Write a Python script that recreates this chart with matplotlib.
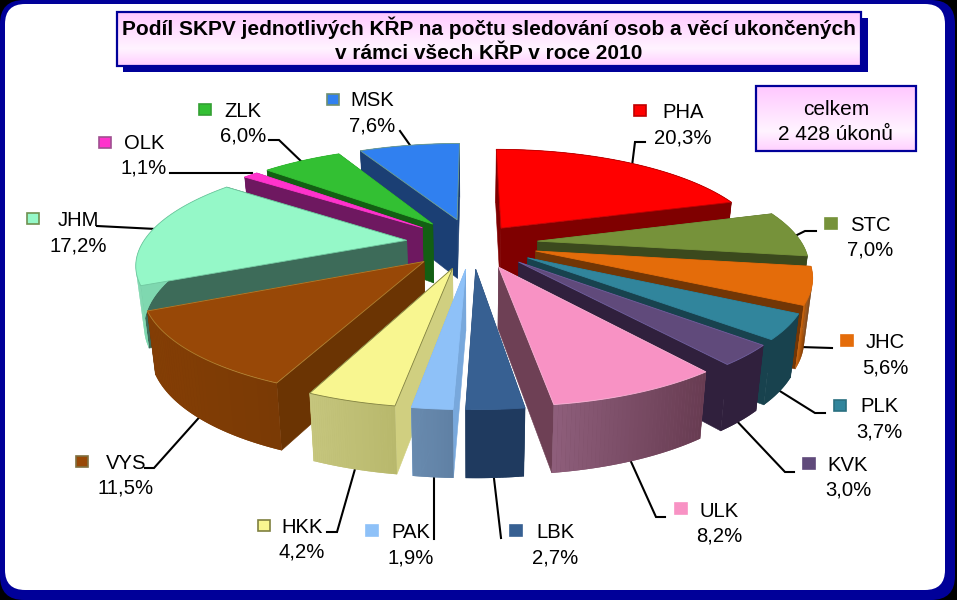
import numpy as np
import matplotlib
matplotlib.use("Agg")
import matplotlib.pyplot as plt
from matplotlib.patches import FancyBboxPatch, Rectangle, Polygon
from matplotlib.colors import to_rgb

plt.rcParams['font.family'] = ['Liberation Sans', 'DejaVu Sans']

# ---- data ----
regions = ["PHA", "STC", "JHC", "PLK", "KVK", "ULK", "LBK", "PAK", "HKK", "VYS", "JHM", "OLK", "ZLK", "MSK"]
shares = [20.3, 7.0, 5.6, 3.7, 3.0, 8.2, 2.7, 1.9, 4.2, 11.5, 17.2, 1.1, 6.0, 7.6]
title_text = "Podíl SKPV jednotlivých KŘP na počtu sledování osob a věcí ukončených\nv rámci všech KŘP v roce 2010"
total_text = "celkem\n2 428 úkonů"

# ---- colours: top, radial wall, outer wall left, outer wall right, edge ----
top_col = ["#FF0000", "#76923A", "#E46C0A", "#31859C", "#604A7B", "#F892C4", "#376092",
           "#8EC1F8", "#F8F690", "#984807", "#95F8C8", "#FF33CC", "#33C033", "#3080F0"]
rad_col = ["#7F0000", "#3B491D", "#723605", "#18424E", "#30203D", "#6E4055", "#1F3A5F",
           "#78A8DC", "#D0CF80", "#6B3403", "#3D6B59", "#6E1860", "#135F13", "#1B3F74"]
arc_a = ["#7F0000", "#3B491D", "#E07010", "#18424E", "#30203D", "#8F5F7C", "#1F3A5F",
         "#6A8CB0", "#C6C67E", "#843E05", "#7FD8B0", "#6E1860", "#135F13", "#1B3F74"]
arc_b = ["#7F0000", "#3B491D", "#723605", "#18424E", "#30203D", "#683C52", "#1F3A5F",
         "#5F80A4", "#B8B86C", "#7A3A05", "#7FD8B0", "#6E1860", "#135F13", "#1B3F74"]
edge_col = ["#C00000", "#76923A", "#E46C0A", "#31859C", "#7060A0", "#F8B0D4", "#376092",
            "#8EC1F8", "#808040", "#B08030", "#70C8A0", "#FF33CC", "#33C033", "#70A090"]

# ---- annotation layout (pixel space) ----
label_xy = [(683, 125), (870, 238), (885, 355), (879, 419), (848, 478), (719, 524), (555, 545),
            (411, 545), (302, 540), (126, 476), (78, 233), (144, 156), (243, 124), (372, 113)]
marker_xy = [(640, 110), (831, 223), (847, 340), (840, 405), (809, 463), (681, 508), (516, 530),
             (372, 530), (264, 525), (82, 461), (33, 218), (105, 142), (205, 109), (333, 99)]
marker_edge = ["#C00000", "#76923A", "#E46C0A", "#2A7080", "#604A7B", "#F892C4", "#376092",
               "#8EC1F8", "#7F8040", "#7F7040", "#6F9050", "#A05090", "#33A033", "#6F8F70"]
leaders = [[(645, 142), (635, 142), (632, 166)],
           [(816, 231), (805, 231), (795, 236)],
           [(832, 348), (800, 347)],
           [(825, 413), (815, 413), (775, 388)],
           [(794, 472), (785, 472), (733, 417)],
           [(665, 517), (656, 517), (628, 455)],
           [(501, 538), (493, 470)],
           [(434, 539), (434, 470)],
           [(327, 532), (337, 532), (357, 462)],
           [(145, 468), (154, 468), (204, 412)],
           [(97, 226), (156, 229)],
           [(170, 173), (252, 173)],
           [(269, 140), (279, 140), (304, 164)],
           [(400, 131), (412, 148)]]

# ---- projection of the tilted, exploded pie ----
CX, CY, AX, BY = 472.0, 243.0, 264.0, 100.0
PERSP, DEPTH = 0.20, 60.0
explode = [0.19, 0.25, 0.25, 0.25, 0.25, 0.25, 0.25, 0.25, 0.25, 0.25, 0.25, 0.25, 0.25, 0.25]


def project(X, Y, z=0.0):
    X, Y = np.asarray(X, float), np.asarray(Y, float)
    w = 1 + PERSP * Y
    sx = CX + AX * X / w * (1 - 0.025 * z)
    sy = CY - BY * Y / w + z * DEPTH / (1 + 0.1 * Y)
    return sx, sy


def poly(X, Y, z=0.0):
    return np.column_stack(project(X, Y, z))


fig = plt.figure(figsize=(9.57, 6.0), dpi=100, facecolor="black")
ax = fig.add_axes([0, 0, 1, 1])
ax.set_xlim(0, 957)
ax.set_ylim(600, 0)
ax.axis("off")

# frame
ax.add_patch(FancyBboxPatch((0, 0), 955, 600, boxstyle="round,pad=0,rounding_size=24",
                            fc="#000099", ec="none", zorder=1))
ax.add_patch(FancyBboxPatch((5, 4), 940, 586, boxstyle="round,pad=0,rounding_size=20",
                            fc="white", ec="none", zorder=2))


def gradient_box(x0, y0, x1, y1, zorder):
    top = np.array(to_rgb("#FFC8FF"))
    mid = np.array(to_rgb("#FFF4FF"))
    bot = np.array(to_rgb("#FFD0FF"))
    t = np.linspace(0, 1, 64)[:, None]
    img = np.where(t < 0.7, top + (mid - top) * t / 0.7, mid + (bot - mid) * (t - 0.7) / 0.3)
    ax.imshow(img[:, None, :], extent=(x0, x1, y1, y0), aspect="auto", zorder=zorder,
              interpolation="bilinear")
    ax.add_patch(Rectangle((x0, y0), x1 - x0, y1 - y0, fc="none", ec="#000099", lw=1.6, zorder=zorder + 0.1))


# title box
ax.add_patch(Rectangle((123, 18), 745, 54, fc="#000099", ec="none", zorder=3))
gradient_box(117, 12, 861, 65.5, 4)
ax.text(489, 40, title_text, ha="center", va="center", fontsize=15.0, fontweight="bold",
        linespacing=1.33, color="black", zorder=5)
# total box
gradient_box(756, 86, 916, 151, 4)
ax.text(836, 122, total_text, ha="center", va="center", fontsize=15.0, linespacing=1.38,
        color="black", zorder=5)

# leaders run underneath the slices so they stop at the slice edge
for pts in leaders:
    p = np.array(pts)
    ax.plot(p[:, 0], p[:, 1], color="black", lw=1.5, solid_joinstyle="miter", zorder=6)

# pie
shares_arr = np.array(shares)
edges = np.concatenate([[0], np.cumsum(shares_arr)]) / shares_arr.sum() * 2 * np.pi
mids = (edges[:-1] + edges[1:]) / 2
order = np.argsort(-np.cos(mids))
for rank, i in enumerate(order):
    zo = 10 + rank
    a0, a1, m = edges[i], edges[i + 1], mids[i]
    ox, oy = explode[i] * np.sin(m), explode[i] * np.cos(m)
    th = np.linspace(a0, a1, 40)
    Xa, Ya = ox + np.sin(th), oy + np.cos(th)
    walls = []
    for a in (a0, a1):
        Xr = np.array([ox, ox + np.sin(a)])
        Yr = np.array([oy, oy + np.cos(a)])
        quad = np.vstack([poly(Xr, Yr), poly(Xr[::-1], Yr[::-1], 1)])
        walls.append((Yr.mean(), quad, rad_col[i]))
    for mean_y, quad, col in sorted(walls, key=lambda w: -w[0]):
        ax.add_patch(Polygon(quad, closed=True, fc=col, ec=col, lw=0.4, zorder=zo))
    # outer wall: a solid base and a left-to-right shade on top of it
    ca, cb = np.array(to_rgb(arc_a[i])), np.array(to_rgb(arc_b[i]))
    base = np.vstack([poly(Xa, Ya), poly(Xa[::-1], Ya[::-1], 1)])
    ax.add_patch(Polygon(base, closed=True, fc=(ca + cb) / 2, ec="none", zorder=zo + 0.1))
    sxa = project(Xa, Ya)[0]
    span = max(abs(sxa[-1] - sxa[0]), 1)
    left = min(sxa[0], sxa[-1])
    for k in range(len(th) - 1):
        q = np.vstack([poly(Xa[k:k + 2], Ya[k:k + 2]), poly(Xa[k:k + 2][::-1], Ya[k:k + 2][::-1], 1)])
        t = np.clip((sxa[k] - left) / span, 0, 1)
        c = ca + (cb - ca) * t
        ax.add_patch(Polygon(q, closed=True, fc=c, ec="none", zorder=zo + 0.2))
    # top face
    Xt = np.concatenate([[ox], Xa])
    Yt = np.concatenate([[oy], Ya])
    ax.add_patch(Polygon(poly(Xt, Yt), closed=True, fc=top_col[i], ec=edge_col[i], lw=0.6, zorder=zo + 0.4))

# labels, markers
for name, val, (lx, ly), (mx, my), mc, fc in zip(regions, shares, label_xy, marker_xy, marker_edge, top_col):
    txt = f"{name}\n{val:.1f}%".replace(".", ",")
    ax.text(lx, ly, txt, ha="center", va="center", fontsize=14.6, linespacing=1.4, color="black", zorder=40)
    ax.add_patch(Rectangle((mx - 6, my - 5.5), 12, 11, fc=fc, ec=mc, lw=1.2, zorder=40))

ax.set_xlim(0, 957)
ax.set_ylim(600, 0)
fig.savefig("out.png", dpi=100, facecolor="black")
